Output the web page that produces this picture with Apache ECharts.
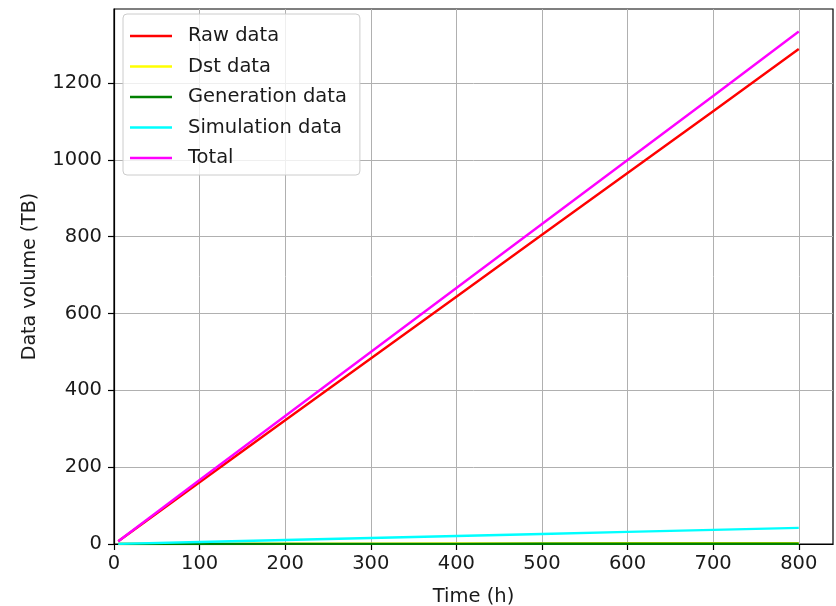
<!DOCTYPE html>
<html>
<head>
<meta charset="utf-8">
<script src="https://cdn.jsdelivr.net/npm/echarts@6/dist/echarts.min.js"></script>
<style>
  html, body { margin: 0; padding: 0; background: #fff; }
  #chart { width: 836px; height: 606px; }
</style>
</head>
<body>
<div id="chart"></div>
<script>
// Time in hours at which the data volumes were sampled
const hours = [5, 100, 200, 300, 400, 500, 600, 700, 800];

// Accumulated data volume per type (TB)
const rawData        = [7, 161, 322, 483, 644, 805, 966, 1127, 1289];
const dstData        = [0.0, 0.3, 0.6, 0.9, 1.2, 1.5, 1.8, 2.1, 2.4];
const generationData = [0.0, 0.1, 0.2, 0.3, 0.4, 0.5, 0.6, 0.7, 0.8];
const simulationData = [0.3, 5.2, 10.5, 15.7, 21, 26.2, 31.5, 36.7, 42];
const totalData      = [7.3, 166.6, 333.3, 499.9, 666.6, 833.2, 999.9, 1166.5, 1334.2];

const xTicks = [0, 100, 200, 300, 400, 500, 600, 700, 800];
const yTicks = [0, 200, 400, 600, 800, 1000, 1200];

const seriesDefs = [
  { name: 'Raw data',        values: rawData,        color: '#ff0000' },
  { name: 'Dst data',        values: dstData,        color: '#ffff00' },
  { name: 'Generation data', values: generationData, color: '#008000' },
  { name: 'Simulation data', values: simulationData, color: '#00ffff' },
  { name: 'Total',           values: totalData,      color: '#ff00ff' }
];

const font = 'DejaVu Sans';
const fontSize = 19.5;
const textColor = '#1a1a1a';
const gridGray = '#b0b0b0';

const chart = echarts.init(document.getElementById('chart'), null, { renderer: 'canvas' });

chart.setOption({
  animation: false,
  backgroundColor: '#ffffff',
  textStyle: { fontFamily: font },
  grid: {
    left: 114, right: 3, top: 9, bottom: 62,
    containLabel: false,
    outerBoundsMode: 'none',
    show: true, borderColor: '#000', borderWidth: 1.2, backgroundColor: 'transparent'
  },
  legend: {
    orient: 'vertical',
    left: 123, top: 14,
    padding: [12, 13, 7, 7],
    itemGap: 10.5,
    itemWidth: 42,
    itemHeight: 2.5,
    icon: 'rect',
    backgroundColor: 'rgba(255,255,255,0.8)',
    borderColor: '#cccccc',
    borderWidth: 1,
    borderRadius: 4,
    textStyle: { fontFamily: font, fontSize: fontSize, lineHeight: 20, color: textColor, padding: [0, 0, 0, 11] },
    data: seriesDefs.map(s => s.name)
  },
  xAxis: {
    type: 'value',
    min: 0, max: 840,
    name: 'Time (h)',
    nameLocation: 'middle',
    nameGap: 43,
    nameTextStyle: { fontFamily: font, fontSize: fontSize, color: textColor },
    axisLine: { show: true, onZero: false, lineStyle: { color: '#000', width: 1.2 } },
    axisTick: { show: true, inside: false, length: 6, customValues: xTicks, lineStyle: { color: '#000', width: 1.2 } },
    axisLabel: { customValues: xTicks, margin: 10, fontFamily: font, fontSize: fontSize, color: textColor,
                 formatter: v => String(v) },
    splitLine: { show: true, lineStyle: { color: gridGray, width: 1 } }
  },
  yAxis: {
    type: 'value',
    min: 0, max: 1393,
    name: 'Data volume (TB)',
    nameLocation: 'middle',
    nameGap: 74,
    nameTextStyle: { fontFamily: font, fontSize: 19, color: textColor },
    axisLine: { show: true, onZero: false, lineStyle: { color: '#000', width: 1.2 } },
    axisTick: { show: true, inside: false, length: 6, customValues: yTicks, lineStyle: { color: '#000', width: 1.2 } },
    axisLabel: { customValues: yTicks, margin: 12, fontFamily: font, fontSize: fontSize, color: textColor,
                 formatter: v => String(v) },
    splitLine: { show: true, lineStyle: { color: gridGray, width: 1 } }
  },
  series: seriesDefs.map(s => ({
    name: s.name,
    type: 'line',
    data: hours.map((h, i) => [h, s.values[i]]),
    showSymbol: false,
    symbol: 'none',
    lineStyle: { color: s.color, width: 2.4 },
    itemStyle: { color: s.color },
    clip: true
  }))
});
</script>
</body>
</html>
